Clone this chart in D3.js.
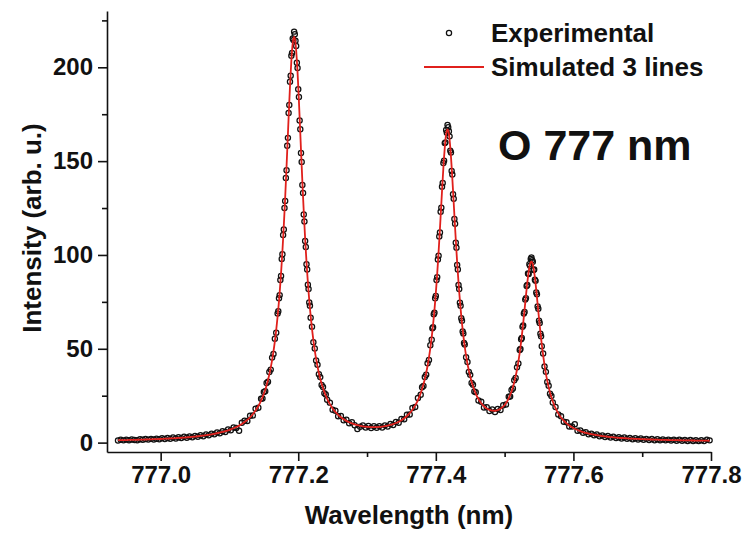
<!DOCTYPE html>
<html>
<head>
<meta charset="utf-8">
<script src="https://cdn.jsdelivr.net/npm/d3@7"></script>
<style>
  html, body { margin: 0; padding: 0; background: #ffffff; }
  svg { display: block; }
  .lbl { font-family: "Liberation Sans", Arial, Helvetica, sans-serif; font-weight: bold; fill: #111; }
</style>
</head>
<body>
<svg id="chart" width="744" height="533"></svg>
<script>
// O I 777 nm triplet: measured spectrum and three-line fit (wavelength in nm, intensity in arb. u.)
const wavelength = [
  776.938,776.942,776.946,776.950,776.954,776.958,776.962,776.966,776.970,776.974,
  776.978,776.982,776.986,776.990,776.994,776.998,777.002,777.006,777.010,777.014,
  777.018,777.022,777.026,777.030,777.034,777.038,777.042,777.046,777.050,777.054,
  777.058,777.062,777.066,777.070,777.074,777.078,777.082,777.086,777.090,777.094,
  777.098,777.102,777.106,777.110,777.114,777.118,777.122,777.126,777.130,777.134,
  777.138,777.142,
  777.146,777.148,777.150,777.152,777.154,777.156,777.158,777.160,777.162,777.164,777.166,777.168,
  777.170,777.171,777.172,777.173,777.174,777.175,777.176,777.177,777.178,777.179,
  777.180,777.181,777.182,777.183,777.184,777.185,777.186,777.187,777.188,777.189,
  777.190,777.191,777.192,777.193,777.194,777.195,777.196,777.197,777.198,777.199,
  777.200,777.201,777.202,777.203,777.204,777.205,777.206,777.207,777.208,777.209,
  777.210,777.211,777.212,777.213,777.214,777.215,777.216,777.217,777.218,
  777.220,777.222,777.224,777.226,777.228,777.230,777.232,777.234,777.236,777.238,777.240,777.242,
  777.246,777.250,777.254,777.258,777.262,777.266,777.270,777.274,777.278,777.282,
  777.286,777.290,777.294,777.298,777.302,777.306,777.310,777.314,777.318,777.322,
  777.326,777.330,777.334,777.338,777.342,777.346,777.350,777.354,777.358,777.362,
  777.366,777.370,777.374,
  777.378,777.380,777.382,777.384,777.386,777.388,777.390,777.392,
  777.394,777.395,777.396,777.397,777.398,777.399,777.400,777.401,777.402,777.403,
  777.404,777.405,777.406,777.407,777.408,777.409,777.410,777.411,777.412,777.413,
  777.414,777.415,777.416,777.417,777.418,777.419,777.420,777.421,777.422,777.423,
  777.424,777.425,777.426,777.427,777.428,777.429,777.430,777.431,777.432,777.433,
  777.434,777.435,777.436,777.437,777.438,777.439,777.440,777.441,777.442,
  777.444,777.446,777.448,777.450,777.452,777.454,777.456,777.458,
  777.462,777.466,777.470,777.474,777.478,777.482,777.486,777.490,777.494,777.498,777.502,
  777.506,777.508,777.510,777.512,777.514,777.516,777.518,777.520,
  777.522,777.523,777.524,777.525,777.526,777.527,777.528,777.529,777.530,777.531,
  777.532,777.533,777.534,777.535,777.536,777.537,777.538,777.539,777.540,777.541,
  777.542,777.543,777.544,777.545,777.546,777.547,777.548,777.549,777.550,777.551,
  777.552,777.553,777.554,
  777.556,777.558,777.560,777.562,777.564,777.566,777.568,777.570,
  777.574,777.578,777.582,777.586,777.590,777.594,777.598,777.602,777.606,777.610,
  777.614,777.618,777.622,777.626,777.630,777.634,777.638,777.642,777.646,777.650,
  777.654,777.658,777.662,777.666,777.670,777.674,777.678,777.682,777.686,777.690,
  777.694,777.698,777.702,777.706,777.710,777.714,777.718,777.722,777.726,777.730,
  777.734,777.738,777.742,777.746,777.750,777.754,777.758,777.762,777.766,777.770,
  777.774,777.778,777.782,777.786,777.790,777.794,777.798
];

const experimental = [
  1.1,1.5,1.2,1.6,1.3,1.7,1.4,1.3,1.8,1.5,
  1.9,1.6,2.0,1.7,2.1,1.8,2.4,1.9,2.5,2.0,
  2.7,2.2,2.9,2.4,3.1,2.6,3.3,2.8,3.6,3.1,
  3.9,3.4,4.3,3.9,4.8,4.4,5.4,5.0,6.1,5.7,
  7.0,6.6,8.1,7.8,6.3,10.6,11.6,11.5,14.3,14.4,
  18.0,18.6,
  23.4,23.5,27.0,27.4,31.8,32.5,37.6,38.9,45.3,47.2,55.4,58.6,
  68.8,70.0,76.9,78.6,86.7,88.8,97.9,100.4,110.6,113.6,
  125.0,128.7,141.0,145.1,158.2,162.4,175.6,179.9,192.3,195.5,
  206.2,207.6,215.4,214.6,219.0,217.6,214.2,211.3,202.4,199.6,
  188.3,184.2,171.6,167.0,154.3,149.6,137.3,133.0,121.6,117.8,
  107.4,104.2,95.0,92.3,84.1,81.9,74.7,72.9,66.6,
  61.8,53.5,50.2,43.8,41.5,36.4,34.9,30.7,29.7,26.3,25.7,22.8,
  21.3,17.5,17.0,14.1,14.2,11.9,12.2,10.3,10.8,9.3,
  7.3,8.5,9.2,8.0,8.9,7.8,8.7,7.9,8.8,8.1,
  9.2,8.6,9.9,9.4,11.0,10.6,12.6,12.4,14.9,15.0,
  18.4,19.0,23.8,
  25.5,29.5,30.2,35.0,36.2,42.3,44.0,51.9,
  54.8,60.9,61.5,68.4,69.2,76.9,78.1,86.6,88.2,97.6,
  99.6,109.9,112.0,123.0,125.2,136.4,138.3,149.0,150.2,159.6,
  160.0,166.6,165.1,169.2,168.0,165.9,163.2,155.6,154.6,144.8,
  142.9,132.4,129.9,119.2,116.6,106.5,103.9,94.6,92.3,84.0,
  81.9,74.5,72.9,66.3,65.0,59.2,58.2,53.1,52.3,
  45.5,43.0,37.6,36.1,31.8,30.9,27.3,26.9,
  22.4,21.8,18.7,18.9,16.8,17.6,16.3,17.9,17.4,19.9,20.3,
  24.4,24.6,28.1,28.8,33.2,34.4,40.1,42.2,
  49.4,49.9,55.1,55.8,61.7,62.4,68.8,69.6,76.2,77.0,
  83.5,84.0,90.1,89.9,95.1,94.2,97.8,98.6,97.2,96.4,
  92.0,92.3,86.8,86.2,80.0,79.0,72.6,71.3,65.0,63.8,
  58.0,56.7,51.4,
  47.5,40.6,37.7,32.3,30.3,26.1,24.8,21.4,
  19.0,15.0,14.0,11.1,10.8,8.6,8.6,9.8,6.3,6.5,
  5.3,5.6,4.5,4.8,3.9,4.3,3.4,3.8,3.0,3.5,
  2.7,3.2,2.4,2.9,2.2,2.7,2.0,2.5,1.8,2.3,
  1.7,2.2,1.5,2.0,1.4,1.9,1.3,1.8,1.2,1.7,
  1.2,1.6,1.1,1.5,1.0,1.5,1.0,1.4,0.9,1.4,
  0.9,1.3,0.8,1.3,0.8,1.6,1.2
];

const simulated = [
  1.29,1.32,1.35,1.38,1.42,1.45,1.49,1.53,1.58,1.62,
  1.67,1.72,1.77,1.82,1.88,1.94,2.01,2.08,2.15,2.23,
  2.31,2.40,2.50,2.60,2.71,2.83,2.95,3.09,3.23,3.39,
  3.56,3.75,3.95,4.18,4.42,4.69,4.99,5.32,5.68,6.09,
  6.55,7.06,7.64,8.30,9.06,9.93,10.94,12.11,13.50,15.14,
  17.11,19.50,
  22.42,24.14,26.06,28.21,30.63,33.36,36.45,39.98,44.01,48.63,53.96,60.11,
  67.21,71.18,75.45,80.05,84.99,90.30,96.00,102.10,108.61,115.55,
  122.90,130.65,138.75,147.15,155.77,164.49,173.18,181.64,189.68,197.07,
  203.56,208.92,212.91,215.39,216.24,215.41,212.95,208.97,203.62,197.16,
  189.79,181.77,173.32,164.65,155.95,147.35,138.96,130.88,123.14,115.81,
  108.89,102.40,96.32,90.64,85.34,80.42,75.85,71.59,67.64,
  60.57,54.46,49.17,44.59,40.61,37.11,34.06,31.36,28.99,26.88,25.00,23.33,
  20.50,18.21,16.34,14.79,13.53,12.47,11.59,10.84,10.24,9.74,
  9.31,8.96,8.69,8.49,8.35,8.27,8.25,8.29,8.38,8.54,
  8.75,9.04,9.41,9.87,10.43,11.12,11.95,12.96,14.18,15.68,
  17.53,19.83,22.70,
  26.35,28.56,31.06,33.92,37.20,40.97,45.31,50.34,
  56.17,59.43,62.93,66.71,70.76,75.12,79.77,84.74,90.03,95.64,
  101.56,107.74,114.14,120.72,127.38,134.01,140.47,146.61,152.24,157.19,
  161.28,164.34,166.23,166.87,166.26,164.40,161.37,157.32,152.40,146.79,
  140.68,134.26,127.66,121.03,114.48,108.11,101.96,96.07,90.50,85.24,
  80.29,75.69,71.38,67.38,63.64,60.19,56.97,53.99,51.22,
  46.26,42.03,38.38,35.21,32.47,30.08,27.99,26.15,
  23.22,21.00,19.37,18.19,17.42,17.02,16.98,17.30,18.04,19.25,21.04,
  23.60,25.27,27.23,29.52,32.19,35.31,38.96,43.20,
  48.12,50.87,53.81,56.93,60.22,63.66,67.23,70.90,74.61,78.30,
  81.90,85.31,88.45,91.20,93.45,95.12,96.13,96.43,96.03,94.92,
  93.15,90.80,87.96,84.72,81.21,77.51,73.72,69.91,66.14,62.47,
  58.93,55.54,52.33,
  46.46,41.30,36.81,32.93,29.56,26.65,24.12,21.92,
  18.35,15.58,13.40,11.68,10.27,9.13,8.18,7.38,6.71,6.13,
  5.64,5.20,4.83,4.49,4.20,3.94,3.70,3.49,3.30,3.13,
  2.97,2.83,2.69,2.57,2.46,2.36,2.27,2.18,2.09,2.02,
  1.95,1.88,1.82,1.76,1.70,1.65,1.60,1.55,1.51,1.47,
  1.43,1.39,1.35,1.32,1.29,1.26,1.23,1.20,1.17,1.15,
  1.12,1.10,1.08,1.05,1.03,1.01,0.99
];

const xTicks = [777.0, 777.2, 777.4, 777.6, 777.8];
const xMinorTicks = [777.1, 777.3, 777.5, 777.7];
const yTicks = [0, 50, 100, 150, 200];
const yMinorTicks = [25, 75, 125, 175, 225];
const legendLabels = ["Experimental", "Simulated 3 lines"];
const annotation = "O 777 nm";
const xTitle = "Wavelength (nm)";
const yTitle = "Intensity (arb. u.)";

const svg = d3.select("#chart");
const plot = { left: 107, right: 711, top: 11, bottom: 452 };
const fitColor = "#e0201c";

const x = d3.scaleLinear().domain([776.922, 777.8]).range([plot.left, plot.right]);
const y = d3.scaleLinear().domain([-5, 230]).range([plot.bottom, plot.top]);

const rows = wavelength.map((w, i) => ({ w, exp: experimental[i], sim: simulated[i] }));

// experimental points: open circles
svg.append("g")
  .selectAll("circle")
  .data(rows)
  .join("circle")
  .attr("cx", d => x(d.w))
  .attr("cy", d => y(d.exp))
  .attr("r", 2.6)
  .attr("fill", "none")
  .attr("stroke", "#111")
  .attr("stroke-width", 1.25);

// three-line fit on top
svg.append("path")
  .datum(rows)
  .attr("fill", "none")
  .attr("stroke", fitColor)
  .attr("stroke-width", 1.8)
  .attr("stroke-linejoin", "round")
  .attr("d", d3.line().x(d => x(d.w)).y(d => y(d.sim)).curve(d3.curveMonotoneX));

// axes
function styleAxis(g, fontSize) {
  g.select(".domain").attr("stroke", "#111").attr("stroke-width", 1.6);
  g.selectAll(".tick line").attr("stroke", "#111").attr("stroke-width", 1.6);
  g.selectAll(".tick text").attr("class", "lbl").attr("font-size", fontSize).attr("fill", "#111");
}

const gxMinor = svg.append("g").attr("transform", `translate(0,${plot.bottom})`)
  .call(d3.axisBottom(x).tickValues(xMinorTicks).tickSize(5).tickFormat(""));
gxMinor.select(".domain").remove();
gxMinor.selectAll(".tick line").attr("stroke", "#111").attr("stroke-width", 1.6);

const gyMinor = svg.append("g").attr("transform", `translate(${plot.left},0)`)
  .call(d3.axisLeft(y).tickValues(yMinorTicks).tickSize(5).tickFormat(""));
gyMinor.select(".domain").remove();
gyMinor.selectAll(".tick line").attr("stroke", "#111").attr("stroke-width", 1.6);

const gx = svg.append("g").attr("transform", `translate(0,${plot.bottom})`)
  .call(d3.axisBottom(x).tickValues(xTicks).tickFormat(d3.format(".1f"))
    .tickSize(9).tickSizeOuter(0).tickPadding(5));
styleAxis(gx, 24);

const gy = svg.append("g").attr("transform", `translate(${plot.left},0)`)
  .call(d3.axisLeft(y).tickValues(yTicks).tickFormat(d3.format("d"))
    .tickSize(9).tickSizeOuter(0).tickPadding(5));
styleAxis(gy, 24);

// axis titles
svg.append("text").attr("class", "lbl")
  .attr("x", (plot.left + plot.right) / 2).attr("y", 515)
  .attr("text-anchor", "middle").attr("dy", "0.35em")
  .attr("font-size", 26).text(xTitle);

svg.append("text").attr("class", "lbl")
  .attr("transform", "translate(32,228) rotate(-90)")
  .attr("text-anchor", "middle").attr("dy", "0.35em")
  .attr("font-size", 26).text(yTitle);

// legend
const legend = svg.append("g");
legend.append("circle").attr("cx", 449).attr("cy", 33).attr("r", 2.6)
  .attr("fill", "none").attr("stroke", "#111").attr("stroke-width", 1.25);
legend.append("line").attr("x1", 424).attr("x2", 484).attr("y1", 67).attr("y2", 67)
  .attr("stroke", fitColor).attr("stroke-width", 1.8);
legend.selectAll("text.entry")
  .data(legendLabels)
  .join("text")
  .attr("class", "lbl entry")
  .attr("x", 491)
  .attr("y", (d, i) => 33 + i * 34)
  .attr("dy", "0.35em")
  .attr("font-size", 26)
  .text(d => d);

// line identification
svg.append("text").attr("class", "lbl")
  .attr("x", 498).attr("y", 145).attr("dy", "0.35em")
  .attr("font-size", 43).text(annotation);
</script>
</body>
</html>
